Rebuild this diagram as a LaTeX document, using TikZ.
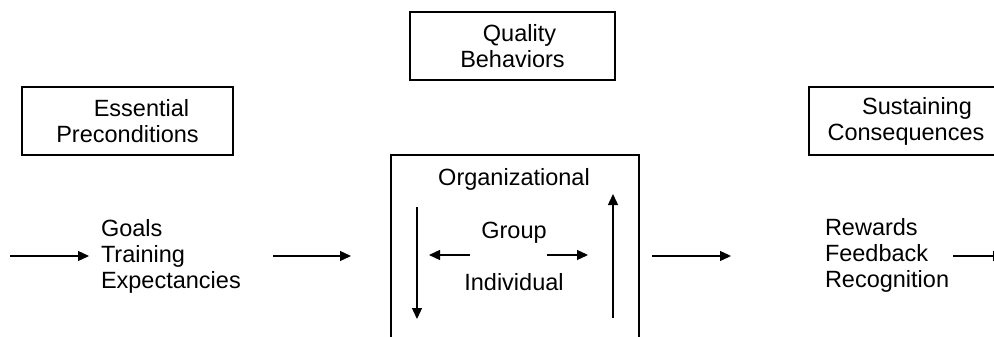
\documentclass[tikz,border=0pt]{standalone}
\usepackage{fontspec}
\setmainfont{Liberation Sans}
\usetikzlibrary{arrows.meta}
\begin{document}
\begin{tikzpicture}[x=1pt,y=-1pt,
  every node/.style={inner sep=0pt, outer sep=0pt},
  lbl/.style={font=\fontsize{23.5}{26}\selectfont},
  frame/.style={draw, line width=1.2pt},
  flow/.style={line width=1.3pt, -{Triangle[length=11pt,width=10pt]}}]
\useasboundingbox (0,0) rectangle (994,337);
\clip (0,0) rectangle (994,337);
\fill[white] (0,0) rectangle (994,337);

% headings
\node[frame, minimum width=211pt, minimum height=68pt] (ess) at (127.5,121) {};
\node[lbl, align=center] (esst) at (ess.center) {\hspace*{28pt}Essential\\Preconditions};
\node[frame, minimum width=205pt, minimum height=68pt] (qual) at (512.5,46) {};
\node[lbl, align=center] (qualt) at (qual.center) {\hspace*{14pt}Quality\\Behaviors};
\node[frame, minimum width=194pt, minimum height=68pt] (sust) at (906,121) {};
\node[lbl, align=center] (sustt) at (sust.center) {\hspace*{22pt}Sustaining\\Consequences};

% central frame with levels
\node[frame, minimum width=248pt, minimum height=205pt] (core) at (515,257.5) {};
\node[lbl, anchor=base] (org) at (514,185) {Organizational};
\node[lbl, anchor=base] (grp) at (514,238) {Group};
\node[lbl, anchor=base] (ind) at (514,290) {Individual};

\coordinate (dn1) at (417,207);  \coordinate (dn2) at (417,319);
\coordinate (up1) at (613,318);  \coordinate (up2) at (613,194);
\coordinate (lf1) at (470,255);  \coordinate (lf2) at (429,255);
\coordinate (rt1) at (547,255);  \coordinate (rt2) at (588,255);
\draw[flow] (dn1) -- (dn2);
\draw[flow] (up1) -- (up2);
\draw[flow] (lf1) -- (lf2);
\draw[flow] (rt1) -- (rt2);

% lists (base anchor sits on the last line)
\node[lbl, align=left, anchor=base west] (pre) at (101,288) {Goals\\Training\\Expectancies};
\node[lbl, align=left, anchor=base west] (con) at (825,287) {Rewards\\Feedback\\Recognition};

% flow through the stages
\coordinate (in) at (10,256);   \coordinate (ina) at (89,256);
\coordinate (m1) at (273,256);  \coordinate (m1a) at (351,256);
\coordinate (m2) at (652,256);  \coordinate (m2a) at (731,256);
\coordinate (out) at (953,256); \coordinate (outa) at (1004,256);
\draw[flow] (in) -- (ina);
\draw[flow] (m1) -- (m1a);
\draw[flow] (m2) -- (m2a);
\draw[flow] (out) -- (outa);
\end{tikzpicture}
\end{document}
